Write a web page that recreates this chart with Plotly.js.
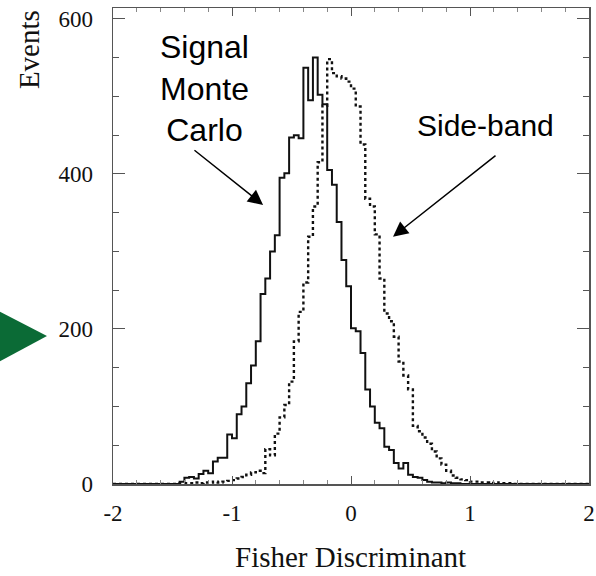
<!DOCTYPE html>
<html>
<head>
<meta charset="utf-8">
<script src="https://cdn.plot.ly/plotly-3.0.1.min.js"></script>
<style>html,body{margin:0;padding:0;background:#fff;}#chart{width:596px;height:576px;}</style>
</head>
<body>
<div id="chart"></div>
<script>
// Histogram binning of the Fisher discriminant
const binStart = -2;
const binWidth = 0.04;

// Signal Monte Carlo counts per bin (100 bins from -2 to 2)
const signalCounts = [
  0,0,0,0,0,0,0,0,0,0,
  0,0,0,0,3,8,9,7,13,17,
  14,29,34,34,64,59,90,100,130,153,
  184,245,265,300,321,395,401,447,450,446,
  537,495,550,502,490,405,386,338,289,255,
  201,197,169,122,100,79,72,48,44,27,
  20,27,12,9,8,5,3,2,2,1,
  2,1,1,0,0,0,0,0,0,0,
  0,0,0,0,0,0,0,0,0,0,
  0,0,0,0,0,0,0,0,0,0
];

// Side-band counts per bin
const sidebandCounts = [
  0,0,0,0,0,0,0,0,0,0,
  0,0,0,0,1,1,1,2,1,2,
  2,3,2,3,4,5,7,9,12,15,
  17,14,45,37,65,86,102,132,184,222,
  260,319,358,415,488,548,530,526,523,519,
  510,487,438,368,358,322,265,220,210,190,
  158,140,122,75,68,60,52,42,33,25,
  17,11,8,6,5,3,3,2,2,1,
  2,1,1,1,0,0,0,0,0,0,
  0,0,0,0,0,0,0,0,0,0
];

const xTickVals = [-2, -1, 0, 1, 2];
const xTickText = ['-2', '-1', '0', '1', '2'];
const yTickVals = [0, 200, 400, 600];
const yTickText = ['0', '200', '400', '600'];

function stepXY(counts) {
  const xs = [], ys = [];
  for (let i = 0; i < counts.length; i++) {
    xs.push(binStart + i * binWidth);
    ys.push(counts[i]);
  }
  xs.push(binStart + counts.length * binWidth);
  ys.push(counts[counts.length - 1]);
  return {xs, ys};
}

const sig = stepXY(signalCounts);
const sb = stepXY(sidebandCounts);

const traces = [
  {x: sb.xs, y: sb.ys, type: 'scatter', mode: 'lines', line: {shape: 'hv', color: '#111', width: 2.4, dash: '3px,3px'}, name: 'Side-band', hoverinfo: 'skip'},
  {x: sig.xs, y: sig.ys, type: 'scatter', mode: 'lines', line: {shape: 'hv', color: '#111', width: 2}, name: 'Signal Monte Carlo', hoverinfo: 'skip'}
];

const serif = 'Liberation Serif, Times New Roman, serif';
const sans = 'Liberation Sans, Arial, sans-serif';
const frame = '#555';

const layout = {
  width: 596, height: 576,
  margin: {l: 113, r: 7, t: 8, b: 92},
  paper_bgcolor: '#fff', plot_bgcolor: '#fff',
  showlegend: false,
  xaxis: {
    range: [-2, 2], tickvals: xTickVals, ticktext: xTickText,
    ticks: 'inside', ticklen: 8, tickwidth: 1, tickcolor: frame,
    minor: {dtick: 0.2, tick0: 0, ticks: 'inside', ticklen: 4, tickwidth: 1, tickcolor: '#888'},
    showline: true, linecolor: frame, linewidth: 1.5, mirror: 'ticks',
    showgrid: false, zeroline: false,
    tickfont: {family: serif, size: 23, color: '#111'},
    ticklabelstandoff: 8
  },
  yaxis: {
    range: [0, 614], tickvals: yTickVals, ticktext: yTickText,
    ticks: 'inside', ticklen: 12, tickwidth: 1, tickcolor: frame,
    minor: {dtick: 50, tick0: 0, ticks: 'inside', ticklen: 6, tickwidth: 1, tickcolor: frame},
    showline: true, linecolor: frame, linewidth: 1.5, mirror: 'ticks',
    showgrid: false, zeroline: false,
    tickfont: {family: serif, size: 23, color: '#111'},
    ticklabelstandoff: 14
  },
  shapes: [
    {type: 'path', xref: 'paper', yref: 'paper',
     path: 'M -0.24 0.363 L -0.1387 0.3109 L -0.24 0.2563 Z',
     fillcolor: '#0B6B36', line: {width: 0}}
  ],
  annotations: [
    {xref: 'paper', yref: 'paper', x: -0.176, y: 0.912, text: 'Events', textangle: -90, showarrow: false,
     font: {family: serif, size: 29, color: '#111'}, xanchor: 'center', yanchor: 'middle'},
    {xref: 'paper', yref: 'paper', x: 0.498, y: -0.153, text: 'Fisher Discriminant', showarrow: false,
     font: {family: serif, size: 29, color: '#111'}, xanchor: 'center', yanchor: 'middle'},
    {x: -1.227, y: 510, text: 'Signal<br>Monte<br>Carlo', showarrow: false,
     font: {family: sans, size: 32, color: '#000'}, align: 'center', xanchor: 'center', yanchor: 'middle'},
    {x: 1.134, y: 462, text: 'Side-band', showarrow: false,
     font: {family: sans, size: 30, color: '#000'}, xanchor: 'center', yanchor: 'middle'},
    {x: -0.739, y: 360, ax: -1.328, ay: 432, axref: 'x', ayref: 'y', text: '', showarrow: true,
     arrowhead: 2, arrowsize: 2, arrowwidth: 1.5, arrowcolor: '#000', standoff: 0, startstandoff: 0},
    {x: 0.353, y: 319, ax: 1.227, ay: 425, axref: 'x', ayref: 'y', text: '', showarrow: true,
     arrowhead: 2, arrowsize: 2, arrowwidth: 1.5, arrowcolor: '#000', standoff: 0, startstandoff: 0}
  ]
};

Plotly.newPlot('chart', traces, layout, {staticPlot: true, displayModeBar: false});
</script>
</body>
</html>
